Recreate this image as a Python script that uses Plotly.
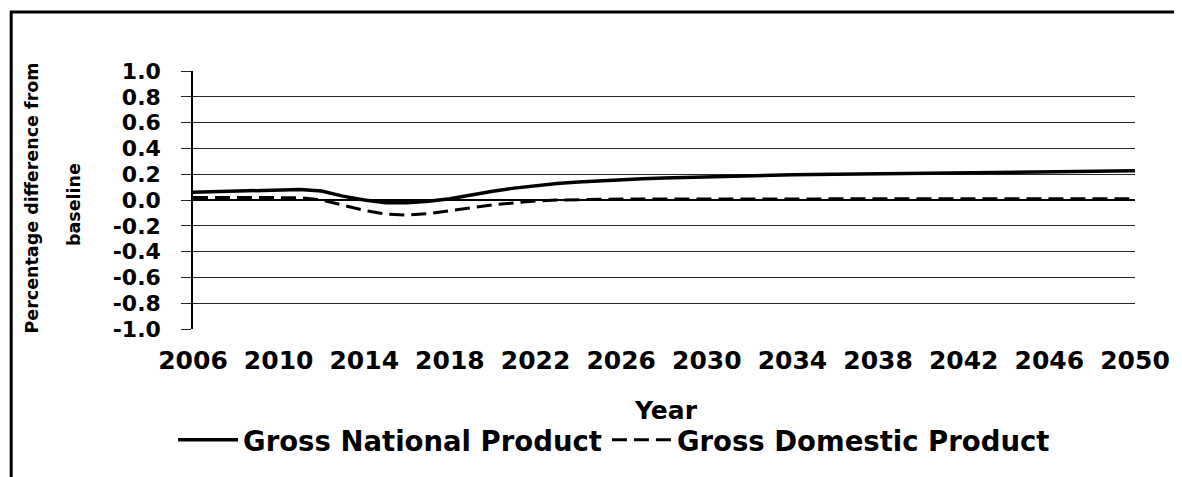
import plotly.graph_objects as go

years = list(range(2006, 2051))
gnp = [0.060, 0.065, 0.070, 0.075, 0.078, 0.082, 0.070, 0.030, 0.000, -0.022,
       -0.022, -0.010, 0.010, 0.040, 0.068, 0.092, 0.112, 0.128, 0.140, 0.150,
       0.158, 0.165, 0.170, 0.175, 0.180, 0.185, 0.188, 0.192, 0.195, 0.198,
       0.200, 0.202, 0.204, 0.206, 0.208, 0.210, 0.212, 0.214, 0.216, 0.218,
       0.220, 0.222, 0.223, 0.225, 0.226]
gdp = [0.020, 0.020, 0.020, 0.020, 0.020, 0.018, 0.000, -0.040, -0.080, -0.110,
       -0.117, -0.105, -0.085, -0.060, -0.037, -0.020, -0.008, 0.000, 0.004, 0.006,
       0.008, 0.008, 0.008, 0.008, 0.009, 0.009, 0.009, 0.009, 0.009, 0.009,
       0.010, 0.010, 0.010, 0.010, 0.010, 0.010, 0.010, 0.010, 0.010, 0.010,
       0.010, 0.010, 0.010, 0.010, 0.010]
x_ticks = list(range(2006, 2051, 4))
y_ticks = [1.0, 0.8, 0.6, 0.4, 0.2, 0.0, -0.2, -0.4, -0.6, -0.8, -1.0]
y_labels = ["%.1f" % v for v in y_ticks]

FONT = "DejaVu Sans"

fig = go.Figure()
fig.add_trace(go.Scatter(x=years, y=gnp, mode="lines", name="Gross National Product",
                         line=dict(color="black", width=3.5)))
fig.add_trace(go.Scatter(x=years, y=gdp, mode="lines", name="Gross Domestic Product",
                         line=dict(color="black", width=3, dash="15px,7px")))

fig.update_layout(
    width=1174, height=469,
    margin=dict(l=185, r=38, t=63, b=148),
    paper_bgcolor="white", plot_bgcolor="white",
    font=dict(family=FONT, color="black", weight="bold"),
    showlegend=True,
    legend=dict(orientation="h", x=0.447, xanchor="center", y=-0.43, yanchor="middle",
                font=dict(size=27.5, family=FONT, weight="bold"), itemwidth=60,
                bgcolor="rgba(0,0,0,0)"),
    xaxis=dict(range=[2006, 2050], tickvals=x_ticks, ticktext=[str(v) for v in x_ticks],
               showgrid=False, zeroline=False, showline=False, ticks="",
               tickfont=dict(size=25, family=FONT, weight="bold"),
               ticklabelstandoff=14),
    yaxis=dict(range=[-1, 1], tickvals=y_ticks, ticktext=y_labels,
               showgrid=True, gridcolor="#262626", gridwidth=1.2,
               zeroline=True, zerolinecolor="black", zerolinewidth=2,
               showline=True, linecolor="black", linewidth=1.5,
               ticks="outside", ticklen=10, tickcolor="#262626", tickwidth=1.2,
               tickfont=dict(size=22, family=FONT, weight="bold"),
               ticklabelstandoff=16),
    annotations=[
        dict(text="Percentage difference from", textangle=-90, xref="paper", yref="paper",
             x=-0.1714, y=0.5078, showarrow=False, xanchor="center", yanchor="middle",
             font=dict(size=17.5, family=FONT, weight="bold")),
        dict(text="baseline", textangle=-90, xref="paper", yref="paper",
             x=-0.1262, y=0.4806, showarrow=False, xanchor="center", yanchor="middle",
             font=dict(size=17.5, family=FONT, weight="bold")),
        dict(text="Year", xref="paper", yref="paper", x=0.5016, y=-0.314,
             showarrow=False, xanchor="center", yanchor="middle",
             font=dict(size=25, family=FONT, weight="bold")),
    ],
    shapes=[
        dict(type="rect", xref="paper", yref="paper", x0=-0.1930, x1=1.06, y0=-0.65, y1=1.2287,
             line=dict(color="black", width=3), fillcolor="rgba(0,0,0,0)", layer="above"),
    ],
)

fig.write_html("out.html")
